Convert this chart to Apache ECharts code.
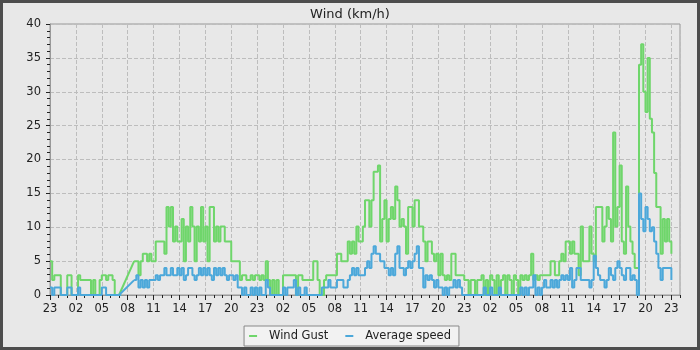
<!DOCTYPE html>
<html>
<head>
<meta charset="utf-8">
<title>Wind (km/h)</title>
<script src="https://cdn.jsdelivr.net/npm/echarts@6/dist/echarts.min.js"></script>
<style>
  html, body { margin: 0; padding: 0; background: #e8e8e8; }
  #chart { width: 700px; height: 350px; }
</style>
</head>
<body>
<div id="chart"></div>
<script>
// one reading every 15 min, first one at 23:00, null = no reading
var stepHours = 0.25;
var hourLabels = ['23','02','05','08','11','14','17','20',
                  '23','02','05','08','11','14','17','20',
                  '23','02','05','08','11','14','17','20','23'];

var gustDay1 = [
  5, 2.2, 2.9, 2.9,   2.9, 0, 0, 0,        2.9, 2.9, 0, 0,      0, 2.9, 2.2, 2.2,
  2.2, 2.2, 2.2, 0,   2.2, 0, 0, 2.2,      2.9, 2.9, 2.2, 2.9,  2.9, 2.2, 0, 0,
  0, null, null, null, null, null, null, 5, 5, 2.9, 5, 6.1,     6.1, 5, 6.1, 5,
  5, 7.9, 7.9, 7.9,   7.9, 6.1, 13, 10.1,  13, 7.9, 10.1, 7.9,  7.9, 11.2, 5, 10.1,
  7.9, 13, 10.1, 5,   10.1, 7.9, 13, 7.9,  10.1, 5, 13, 13,     7.9, 10.1, 7.9, 10.1,
  10.1, 7.9, 7.9, 7.9, 5, 5, 5, 5,         2.2, 2.9, 2.9, 2.2,  2.2, 2.9, 2.2, 2.9
];
var gustDay2 = [
  2.9, 2.2, 2.9, 2.2, 5, 2.2, 0, 2.2,      0, 2.2, 0, 0,        2.9, 2.9, 2.9, 2.9,
  2.9, 2.9, 0, 2.9,   2.9, 2.2, 2.2, 2.2,  2.2, 2.2, 5, 5,      2.2, 0, 0, 2.2,
  2.9, 2.9, 2.9, 2.9, 2.9, 6.1, 6.1, 5,    5, 5, 7.9, 6.1,      7.9, 6.1, 10.1, 7.9,
  7.9, 10.1, 14, 14,  10.1, 14, 18.2, 18.2, 19.1, 7.9, 11.2, 14, 7.9, 11.2, 13, 11.2,
  16, 14, 10.1, 11.2, 10.1, 6.1, 13, 13,   10.1, 14, 14, 10.1,  10.1, 7.9, 5, 7.9,
  7.9, 6.1, 5, 6.1,   2.9, 6.1, 2.9, 2.2,  2.9, 2.2, 6.1, 6.1,  2.9, 2.9, 2.9, 2.9
];
var gustDay3 = [
  2.2, 2.2, 0, 2.2,   2.2, 0, 2.2, 2.2,    2.9, 0, 2.2, 0,      2.9, 2.2, 0, 2.9,
  0, 2.2, 2.9, 0,     2.9, 2.2, 0, 2.9,    2.2, 0, 2.9, 2.2,    2.9, 2.2, 2.9, 6.1,
  2.2, 2.9, 2.2, 2.9, 2.9, 2.9, 2.9, 2.9,  5, 5, 2.9, 2.9,      5, 6.1, 5, 7.9,
  7.9, 6.1, 7.9, 6.1, 6.1, 2.9, 10.1, 5,   5, 5, 10.1, 6.1,     5, 13, 13, 13,
  7.9, 10.1, 13, 11.2, 7.9, 24, 10.1, 13,  19.1, 7.9, 6.1, 16,  10.1, 7.9, 6.1, 4,
  4, 34, 37, 30,      27, 35, 26, 24,      18, 13, 13, 6.1,     11.2, 7.9, 11.2, 7.9,
  6.1
];

var avgDay1 = [
  1.1, 0, 1.1, 1.1,   1.1, 0, 0, 0,        1.1, 1.1, 0, 0,      0, 1.1, 0, 0,
  0, 0, 0, 0,         0, 0, 0, 0,          1.1, 1.1, 0, 0,      0, 0, 0, 0,
  0, null, null, null, null, null, null, 2.2, 2.9, 1.1, 2.2, 1.1, 2.2, 1.1, 2.2, 2.2,
  2.2, 2.9, 2.2, 2.9, 2.9, 4, 2.9, 2.9,    4, 2.9, 2.9, 4,      2.9, 4, 2.2, 2.9,
  4, 4, 2.9, 2.2,     2.9, 4, 2.9, 4,      2.9, 4, 2.9, 2.2,    4, 2.9, 4, 2.9,
  4, 2.9, 2.2, 2.9,   2.9, 2.2, 2.9, 1.1,  1.1, 0, 1.1, 0,      0, 1.1, 0, 1.1
];
var avgDay2 = [
  0, 1.1, 0, 0,       2.2, 1.1, 0, 0,      0, 0, 0, 0,          1.1, 0, 1.1, 1.1,
  1.1, 2.2, 0, 1.1,   0, 0, 1.1, 0,        0, 0, 0, 0,          0, 0, 1.1, 1.1,
  1.1, 2.2, 1.1, 1.1, 1.1, 2.2, 2.2, 2.2,  1.1, 1.1, 2.2, 2.9,  4, 2.9, 4, 2.9,
  2.9, 2.9, 4, 5,     4, 6.1, 7.2, 6.1,    6.1, 5, 5, 4,        4, 2.9, 4, 2.9,
  6.1, 7.2, 4, 4,     2.9, 4, 5, 4,        5, 6.1, 7.2, 4,      4, 1.1, 2.9, 2.2,
  2.9, 2.2, 1.1, 2.2, 1.1, 1.1, 0, 1.1,    0, 1.1, 1.1, 2.2,    1.1, 2.2, 1.1, 0
];
var avgDay3 = [
  0, 0, 0, 0,         0, 0, 0, 0,          0, 1.1, 0, 0,        1.1, 0, 0, 0,
  1.1, 0, 0, 0,       0, 0, 0, 0,          0, 0, 1.1, 0,        1.1, 0, 1.1, 1.1,
  2.9, 0, 1.1, 0,     1.1, 2.2, 1.1, 1.1,  2.2, 1.1, 2.2, 1.1,  2.2, 2.9, 2.2, 2.9,
  2.2, 4, 1.1, 2.2,   4, 4, 2.2, 2.2,      2.2, 2.2, 1.1, 2.2,  5.8, 4, 2.9, 2.2,
  2.2, 1.1, 2.2, 4,   2.9, 2.2, 4, 5,      4, 2.9, 2.2, 4,      4, 2.2, 2.9, 2.2,
  0, 15, 11.2, 9.4,   13, 11.2, 9.4, 10,   7.9, 6.1, 4, 2.2,    4, 4, 4, 4,
  2.2
];

var gust = gustDay1.concat(gustDay2, gustDay3);
var avg = avgDay1.concat(avgDay2, avgDay3);

function toPoints(values) {
  return values.map(function (v, i) { return [i * stepHours, v]; });
}

// straight line across a run of missing readings
function gapPoints(values) {
  var out = [];
  for (var i = 1; i < values.length; i++) {
    if (values[i] === null && values[i - 1] !== null) {
      var j = i;
      while (j < values.length && values[j] === null) j++;
      if (j < values.length) {
        out.push([(i - 1) * stepHours, values[i - 1]], [j * stepHours, values[j]], [null, null]);
      }
      i = j;
    }
  }
  return out;
}

var gustColor = '#6fd66b';
var avgColor = '#4ca8da';
var font = 'DejaVu Sans';

function lineSeries(name, data, color, step) {
  return {
    name: name, type: 'line', xAxisIndex: 0, data: data,
    step: step, showSymbol: false, connectNulls: false,
    itemStyle: { color: color },
    lineStyle: { color: color, width: 2 }
  };
}

var chart = echarts.init(document.getElementById('chart'));
chart.setOption({
  backgroundColor: '#e8e8e8',
  animation: false,
  title: {
    text: 'Wind (km/h)',
    left: 'center',
    top: 3,
    textStyle: { fontFamily: font, fontSize: 13, fontWeight: 'normal', color: '#222' }
  },
  legend: {
    data: ['Wind Gust', 'Average speed'],
    left: 'center',
    top: 326,
    icon: 'rect',
    itemWidth: 8,
    itemHeight: 2,
    itemGap: 17,
    padding: [4, 8, 4, 5],
    backgroundColor: '#f2f2f2',
    borderColor: '#888',
    borderWidth: 1,
    borderRadius: 0,
    textStyle: { fontFamily: font, fontSize: 11.5, color: '#222', padding: [0, 0, 0, 7] }
  },
  grid: {
    left: 50, top: 24, right: 20, bottom: 55,
    show: true, backgroundColor: '#e8e8e8', borderColor: '#999', borderWidth: 1
  },
  xAxis: [{
    type: 'value', position: 'bottom', min: 0, max: 73, interval: 3,
    axisLine: { onZero: false, lineStyle: { color: '#999' } },
    axisTick: { length: 5, lineStyle: { color: '#222' } },
    axisLabel: {
      margin: 8, showMaxLabel: false, fontFamily: font, fontSize: 11.5, color: '#222',
      formatter: function (v) { return hourLabels[v / 3] || ''; }
    },
    splitLine: { show: true, lineStyle: { color: '#bdbdbd', type: [4, 2] } }
  }, {
    type: 'value', position: 'bottom', min: 0, max: 73, interval: 1,
    axisLine: { show: false, onZero: false },
    axisTick: { length: 3, lineStyle: { color: '#222' } },
    axisLabel: { show: false },
    splitLine: { show: false }
  }],
  yAxis: {
    type: 'value', min: 0, max: 40, interval: 5,
    axisLine: { show: true, lineStyle: { color: '#999' } },
    axisTick: { length: 4, lineStyle: { color: '#222' } },
    minorTick: { show: true, splitNumber: 5, length: 3, lineStyle: { color: '#222' } },
    axisLabel: { margin: 9, fontFamily: font, fontSize: 11.5, color: '#222' },
    splitLine: { show: true, lineStyle: { color: '#bdbdbd', type: [4, 2] } }
  },
  series: [
    lineSeries('Wind Gust', toPoints(gust), gustColor, 'end'),
    lineSeries('Wind Gust', gapPoints(gust), gustColor, false),
    lineSeries('Average speed', toPoints(avg), avgColor, 'end'),
    lineSeries('Average speed', gapPoints(avg), avgColor, false)
  ],
  graphic: [{
    type: 'rect', silent: true, z: 100,
    shape: { x: 1.5, y: 1.5, width: 697, height: 347 },
    style: { fill: 'none', stroke: '#4d4d4d', lineWidth: 3 }
  }]
});
</script>
</body>
</html>
